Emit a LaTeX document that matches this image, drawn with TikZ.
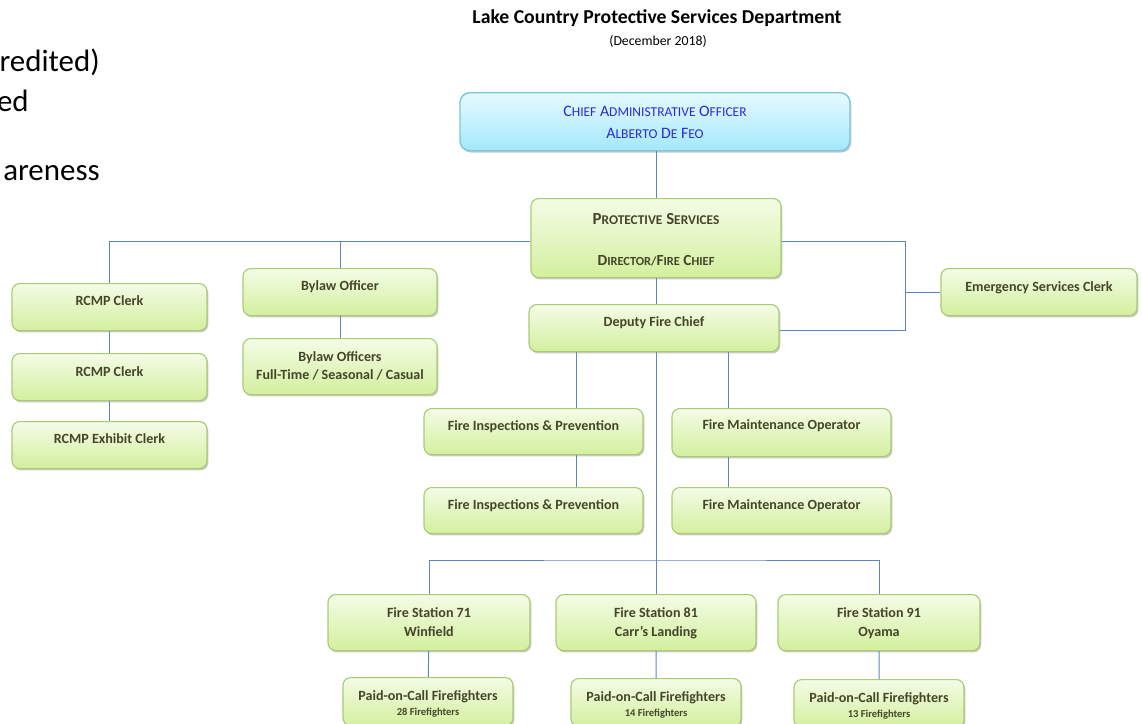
\documentclass[tikz,border=0pt]{standalone}
\usepackage{fontspec}
\setmainfont{Carlito}
\usetikzlibrary{shadows}
\definecolor{lcink}{HTML}{45452A}
\definecolor{lcblue}{HTML}{2B2BD6}
\definecolor{lcline}{HTML}{5A86C8}
\definecolor{lcgreentop}{HTML}{F4FCE6}
\definecolor{lcgreenbot}{HTML}{D3EF9E}
\definecolor{lcgreenrim}{HTML}{A9CB73}
\definecolor{lccyantop}{HTML}{E6FAFF}
\definecolor{lccyanbot}{HTML}{A3E8FB}
\definecolor{lccyanrim}{HTML}{7EC6DA}
\newcommand\smc[2]{#1{\fontsize{9.6}{10}\selectfont #2}}
\newcommand\smcd[2]{#1{\fontsize{8.8}{10}\selectfont #2}}
\tikzset{
  box/.style={rectangle,rounded corners=5.5pt,draw=lcgreenrim,top color=lcgreentop,bottom color=lcgreenbot,
    line width=.8pt,anchor=north,inner xsep=0pt,inner ysep=0pt,align=center,text=lcink,
    font=\bfseries\fontsize{10}{13}\selectfont,text height=.55cm,text depth=.625cm,
    drop shadow={shadow xshift=.9pt,shadow yshift=-1.3pt,opacity=.3,fill=black!70}},
  chief/.style={box,rounded corners=7pt,draw=lccyanrim,top color=lccyantop,bottom color=lccyanbot,
    line width=1pt,text=lcblue,font=\fontsize{11.3}{15.4}\selectfont},
  link/.style={draw=lcline,line width=.7pt},
  heading/.style={font=\bfseries\fontsize{14}{16}\selectfont,text=black},
  side/.style={font=\fontsize{22}{26}\selectfont,anchor=base east,inner sep=0pt},
}
\begin{document}
\begin{tikzpicture}[x=.025cm,y=-.025cm]
  \useasboundingbox (0,0) rectangle (1142,723);
  \clip (0,0) rectangle (1142,723);
  \node[heading] (title) at (657,18) {Lake Country Protective Services Department};
  \node[font=\fontsize{9.8}{11}\selectfont] (date) at (658,41) {(December 2018)};
  \node[side] (s1) at (100,71) {redited)};
  \node[side] (s2) at (29,111) {ed};
  \node[side] (s3) at (100,180) {areness};
  % top of the chart
  \node[chief,minimum width=390*.025cm,text height=1.1425cm,text depth=.3075cm] (cao) at (655,92)
    {\smc{C}{HIEF} \smc{A}{DMINISTRATIVE} \smc{O}{FFICER}\\\smc{A}{LBERTO} \smc{D}{E} \smc{F}{EO}};
  \node[box,minimum width=250*.025cm,text height=1.675cm,text depth=.3cm,font=\bfseries\fontsize{12}{15}\selectfont] (ps) at (656,198)
    {P{\fontsize{9.5}{10}\selectfont ROTECTIVE} S{\fontsize{9.5}{10}\selectfont ERVICES}\\[14pt]
     {\fontsize{11}{12}\selectfont\smcd{D}{IRECTOR/}\smcd{F}{IRE} \smcd{C}{HIEF}}};
  \node[box,minimum width=250*.025cm,text height=.5375cm,text depth=.6375cm] (dep) at (654,304) {Deputy Fire Chief};
  % left side
  \node[box,minimum width=195*.025cm,text height=.5375cm,text depth=.6375cm] (rc1) at (109.5,283) {RCMP Clerk};
  \node[box,minimum width=195*.025cm,text height=.5625cm,text depth=.6125cm] (rc2) at (109.5,353) {RCMP Clerk};
  \node[box,minimum width=195*.025cm] (rc3) at (109.5,421) {RCMP Exhibit Clerk};
  \node[box,minimum width=194*.025cm,text height=.5375cm,text depth=.6375cm] (byl1) at (340,268) {Bylaw Officer};
  \node[box,minimum width=194*.025cm,text height=1.02cm,text depth=.38cm] (byl2) at (340,338) {Bylaw Officers\\Full-Time / Seasonal / Casual};
  % right side
  \node[box,minimum width=196*.025cm,text height=.575cm,text depth=.6cm] (emg) at (1039,268) {Emergency Services Clerk};
  % under the deputy
  \node[box,minimum width=219*.025cm,text depth=.6cm] (fi1) at (533.5,408) {Fire Inspections \& Prevention};
  \node[box,minimum width=219*.025cm,text depth=.6cm] (fi2) at (533.5,487) {Fire Inspections \& Prevention};
  \node[box,minimum width=219*.025cm,text height=.525cm,text depth=.675cm] (fm1) at (781.5,408) {Fire Maintenance Operator};
  \node[box,minimum width=219*.025cm,text depth=.6cm] (fm2) at (781.5,487) {Fire Maintenance Operator};
  % stations
  \node[box,minimum width=202*.025cm,text height=1.0375cm,text depth=.3625cm] (fs71) at (429,594) {Fire Station 71\\Winfield};
  \node[box,minimum width=200*.025cm,text height=1.0375cm,text depth=.3625cm] (fs81) at (656,594) {Fire Station 81\\Carr’s Landing};
  \node[box,minimum width=202*.025cm,text height=1.0375cm,text depth=.3625cm] (fs91) at (879,594) {Fire Station 91\\Oyama};
  \node[box,minimum width=170*.025cm,text height=.9375cm,text depth=.2625cm] (poc1) at (428,677)
    {Paid-on-Call Firefighters\\[-2.3pt]{\fontsize{7.5}{8}\selectfont 28 Firefighters}};
  \node[box,minimum width=170*.025cm,text height=.9375cm,text depth=.2625cm] (poc2) at (656,678)
    {Paid-on-Call Firefighters\\[-2.3pt]{\fontsize{7.5}{8}\selectfont 14 Firefighters}};
  \node[box,minimum width=170*.025cm,text height=.9375cm,text depth=.2625cm] (poc3) at (879,679)
    {Paid-on-Call Firefighters\\[-2.3pt]{\fontsize{7.5}{8}\selectfont 13 Firefighters}};
  % connectors
  \coordinate (colmain) at (656,0);
  \coordinate (colfi) at (576,0);
  \coordinate (colfm) at (728,0);
  \coordinate (rtop) at (905,241.5);
  \coordinate (rbot) at (905,330);
  \coordinate (bar) at (656,560);
  \draw[link] (cao.south -| colmain) -- (ps.north -| colmain);
  \draw[link] (ps.south -| colmain) -- (dep.north -| colmain);
  \draw[link] (dep.south -| colmain) -- (fs81.north);
  \draw[link] (ps.west |- rtop) -| (rc1.north);
  \draw[link] (byl1.north |- rtop) -- (byl1.north);
  \draw[link] (ps.east |- rtop) -- (rtop) -- (rbot) -- (dep.east |- rbot);
  \draw[link] (emg.west) -- (emg.west -| rtop);
  \draw[link] (rc1) -- (rc2) (rc2) -- (rc3) (byl1) -- (byl2);
  \draw[link] (dep.south -| colfi) -- (fi1.north -| colfi) (fi1.south -| colfi) -- (fi2.north -| colfi);
  \draw[link] (dep.south -| colfm) -- (fm1.north -| colfm) (fm1.south -| colfm) -- (fm2.north -| colfm);
  \draw[link] (fs71.north) |- (bar) -| (fs91.north);
  \draw[link] (fs71) -- (poc1) (fs81) -- (poc2) (fs91) -- (poc3);
\end{tikzpicture}
\end{document}
